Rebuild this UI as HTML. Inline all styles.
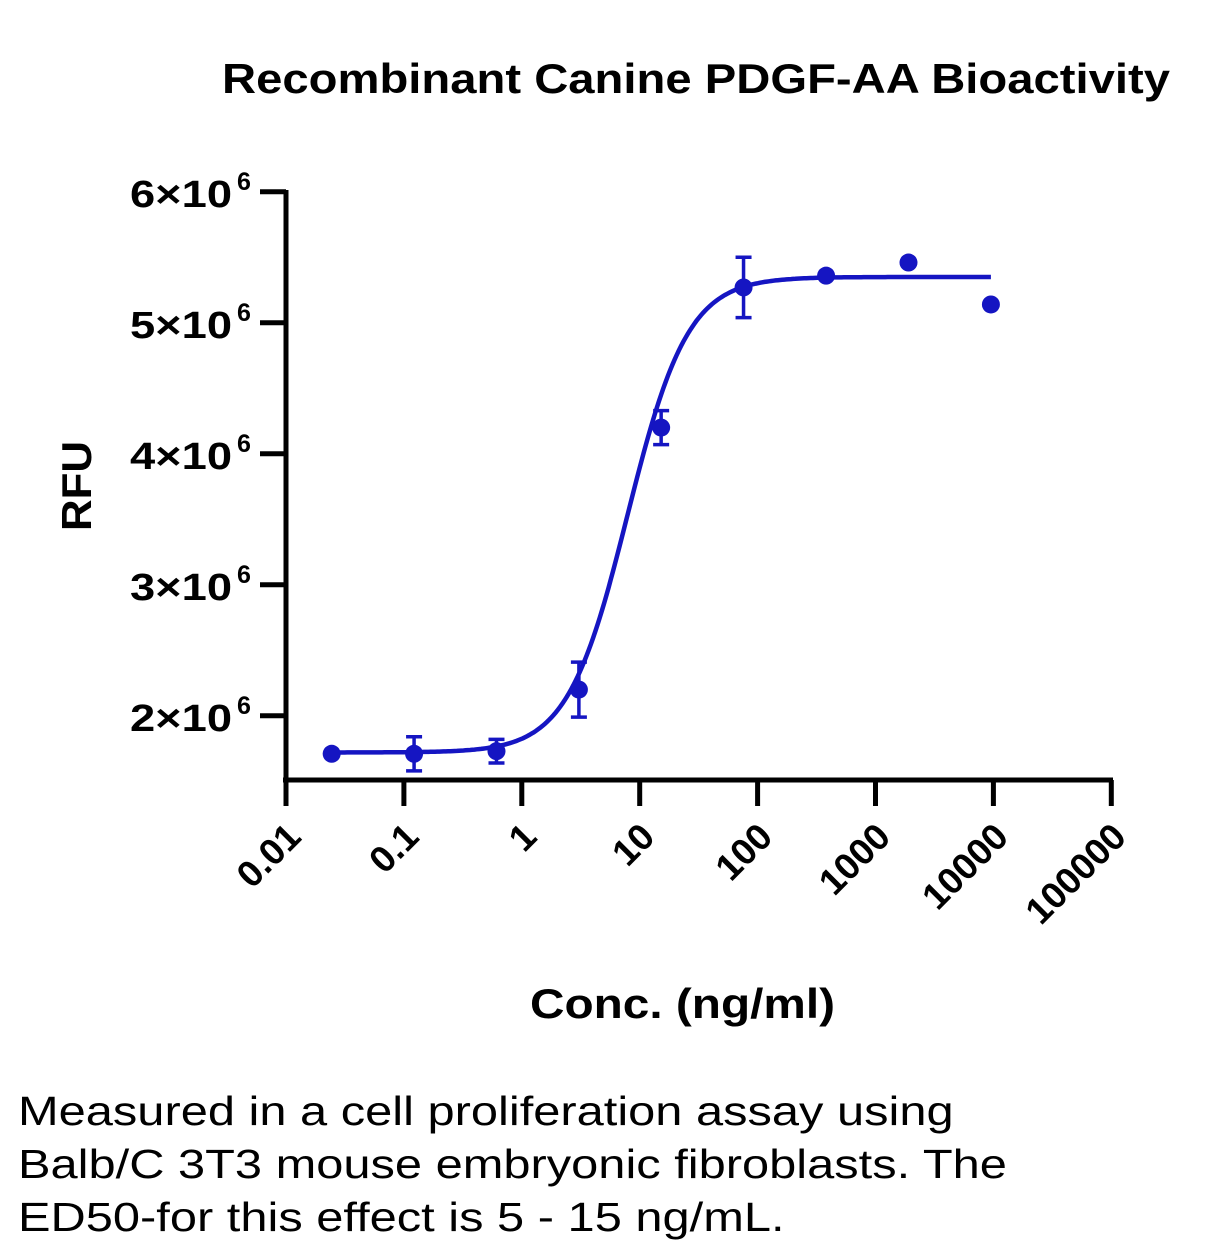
<!DOCTYPE html>
<html><head><meta charset="utf-8"><style>
html,body{margin:0;padding:0;background:#fff;}
body{width:1214px;height:1255px;overflow:hidden;position:relative;font-family:"Liberation Sans",sans-serif;}
#cap{position:absolute;left:18px;top:1085px;font-size:41px;line-height:53px;color:#000;transform:scaleX(1.19);transform-origin:0 0;white-space:nowrap;}
</style></head><body>
<svg id="chart" width="1214" height="1070" style="position:absolute;left:0;top:0" font-family="Liberation Sans, sans-serif">
<text x="222" y="93" font-size="42" font-weight="bold" textLength="948" lengthAdjust="spacingAndGlyphs">Recombinant Canine PDGF-AA Bioactivity</text>
<text transform="translate(80,486) rotate(-90)" font-size="42" font-weight="bold" text-anchor="middle" dominant-baseline="middle" textLength="90" lengthAdjust="spacingAndGlyphs">RFU</text>
<text x="530" y="1018" font-size="42" font-weight="bold" textLength="305" lengthAdjust="spacingAndGlyphs">Conc. (ng/ml)</text>
<g id="axes"></g><g id="marks"></g>
</svg>
<div id="cap">Measured in a cell proliferation assay using<br>Balb/C 3T3 mouse embryonic fibroblasts. The<br>ED50-for this effect is 5 - 15 ng/mL.</div>
<script>
const conc=[0.0244,0.122,0.61,3.05,15.2,76,381,1905,9525];
const rfu=[1.71,1.71,1.73,2.2,4.2,5.27,5.36,5.46,5.14];
const err=[0,0.13,0.09,0.21,0.13,0.23,0,0,0];
const yTicks=[2,3,4,5,6];
const xTicks=[0.01,0.1,1,10,100,1000,10000,100000];
const xTickLabels=["0.01","0.1","1","10","100","1000","10000","100000"];
const fitBottom=1.72,fitTop=5.35,fitEC50=7.9,fitHill=1.7;
const NS="http://www.w3.org/2000/svg";
const COL='#1515c2';
function X(v){return 286+(Math.log10(v)+2)*117.9;}
function Y(v){return 780-(v-1.51)*131;}
function mk(tag,attrs,parent){const e=document.createElementNS(NS,tag);for(const k in attrs)e.setAttribute(k,attrs[k]);parent.appendChild(e);return e;}
const ax=document.getElementById('axes'),mg=document.getElementById('marks');
let e=mk('line',{x1:286,y1:190,x2:286,y2:783,stroke:'#000','stroke-width':5},ax);


e=mk('line',{x1:283,y1:780,x2:1113,y2:780,stroke:'#000','stroke-width':5},ax);


yTicks.forEach(t=>{
  const y=Y(t);
  let l=mk('line',{x1:260,y1:y,x2:286,y2:y,stroke:'#000','stroke-width':5},ax);
  
  
  let tx=mk('text',{x:130,y:y+15,'font-size':38,'font-weight':'bold'},ax);
  
  
  tx.innerHTML='<tspan textLength="102" lengthAdjust="spacingAndGlyphs">'+t+'×10</tspan><tspan dx="5" dy="-17" font-size="25">6</tspan>';
});
xTicks.forEach((t,i)=>{
  const x=X(t);
  let l=mk('line',{x1:x,y1:780,x2:x,y2:806,stroke:'#000','stroke-width':5},ax);
  
  
  let tx=mk('text',{transform:`translate(${x+10},${832}) rotate(-45)`,'font-size':37,'font-weight':'bold','text-anchor':'end','dominant-baseline':'middle'},ax);
  
  
  tx.textContent=xTickLabels[i];
});
let d='';
const lo=Math.log10(conc[0]),hi=Math.log10(conc[conc.length-1]);
for(let i=0;i<=300;i++){const lx=lo+(hi-lo)*i/300,c=Math.pow(10,lx);
 const v=fitBottom+(fitTop-fitBottom)/(1+Math.pow(fitEC50/c,fitHill));
 d+=(i?'L':'M')+X(c).toFixed(1)+','+Y(v).toFixed(1);}
e=mk('path',{d:d,fill:'none',stroke:COL,'stroke-width':4.5},mg);


conc.forEach((c,i)=>{
  const x=X(c),y=Y(rfu[i]);
  if(err[i]>0){const y1=Y(rfu[i]+err[i]),y2=Y(rfu[i]-err[i]);
    const g=mk('path',{d:`M${x},${y1}V${y2}M${x-8},${y1}H${x+8}M${x-8},${y2}H${x+8}`,stroke:COL,'stroke-width':3.5,fill:'none'},mg);
    
    }
  const p=mk('circle',{cx:x,cy:y,r:9,fill:COL},mg);
  
  
});
</script>
</body></html>
